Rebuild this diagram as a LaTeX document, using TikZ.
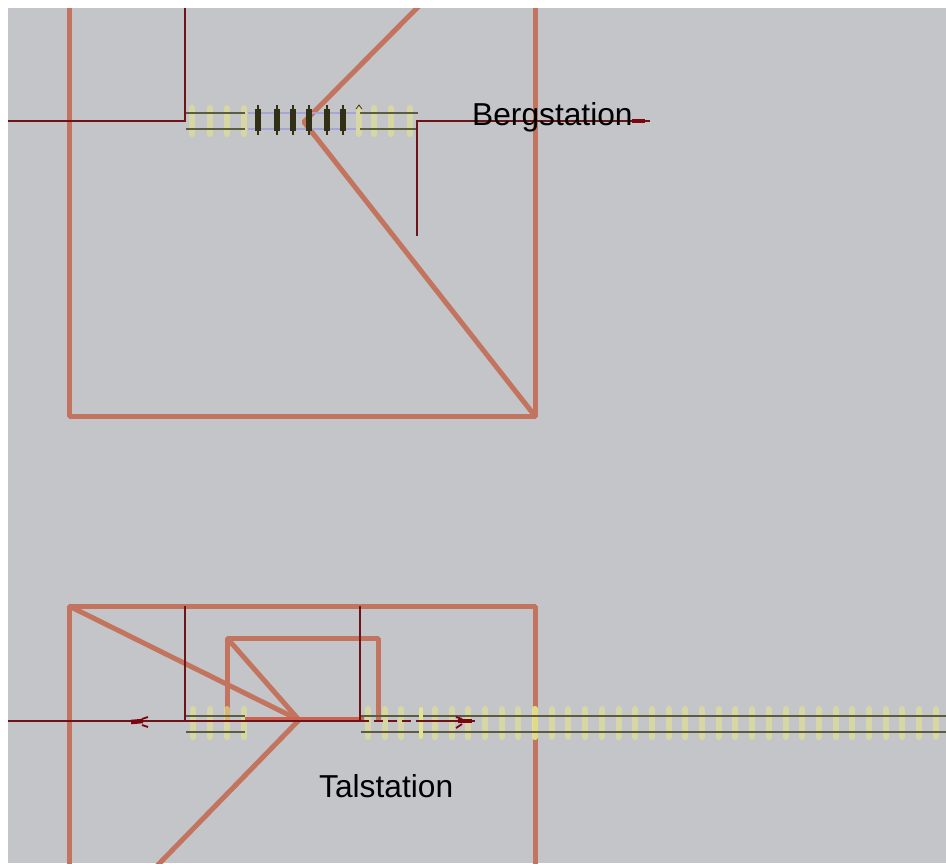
\documentclass[tikz,border=0pt]{standalone}
\usepackage{fontspec}
\setmainfont{Liberation Sans}
\usetikzlibrary{calc}
\definecolor{wall}{RGB}{194, 116, 94}
\definecolor{cable}{RGB}{110, 20, 25}
\definecolor{blob}{RGB}{125, 5, 15}
\definecolor{rail}{RGB}{92, 92, 62}
\definecolor{sleeper}{RGB}{228, 228, 140}
\definecolor{bluerail}{RGB}{165, 165, 215}
\definecolor{darktie}{RGB}{50, 48, 20}
\definecolor{paper}{RGB}{196, 197, 201}
\tikzset{
    wallline/.style={draw=wall, line width=5pt, line join=bevel},
    cableline/.style={draw=cable, line width=2pt},
    railline/.style={draw=rail, line width=2pt},
    tie/.style={draw=sleeper, line width=6pt, line cap=round, opacity=0.6},
    darkrail/.style={draw=bluerail, line width=2pt},
    sleepertie/.style={draw=darktie, line width=6pt},
    tiptick/.style={draw=darktie, line width=2pt},
    barb/.style={draw=blob, line width=1.8pt},
    blobline/.style={draw=blob, line width=4.5pt},
    label/.style={font=\fontsize{31.7}{38}\selectfont, text=black, inner sep=0pt}
}
\begin{document}
\begin{tikzpicture}[x=1pt, y=-1pt]
    \useasboundingbox (0,0) rectangle (946,863);
    \fill[paper] (8,8) rectangle (946,863);
    \clip (8,8) rectangle (946,863);

    % -- Bergstation: walls --
    \coordinate (bergTL) at (69,0);
    \coordinate (bergBL) at (69,416);
    \coordinate (bergBR) at (535,416);
    \coordinate (bergTR) at (535,0);
    \coordinate (bergMid) at (304,122);
    \coordinate (bergTop) at (425,0);
    \draw [wallline] (bergTL) -- (bergBL) -- (bergBR) -- (bergTR);
    \draw [wallline] (bergBR) -- (bergMid) -- (bergTop);

    % -- Talstation: walls --
    \coordinate (talTL) at (69,606);
    \coordinate (talTR) at (535,606);
    \coordinate (talBL) at (69,870);
    \coordinate (talBR) at (535,870);
    \coordinate (talMid) at (299,720);
    \coordinate (talDiag) at (153,870);
    \coordinate (boxTL) at (227,638);
    \coordinate (boxTR) at (378,638);
    \coordinate (boxBL) at (227,720);
    \coordinate (boxBR) at (378,720);
    \draw [wallline] (talBL) -- (talTL) -- (talTR) -- (talBR);
    \draw [wallline] (talTL) -- (talMid) -- (talDiag);
    \draw [wallline] (boxBL) -- (boxTL) -- (boxTR) -- (boxBR);
    \draw [wallline] (boxTL) -- (talMid);

    % -- Bergstation: tracks --
    \foreach \x in {192,210,227,244,359,374,391,410} {
        \draw [tie] (\x,108) -- (\x,134);
    }
    \draw [railline] (186,113) -- (245,113);
    \draw [railline] (186,129) -- (245,129);
    \draw [railline] (360,113) -- (418,113);
    \draw [railline] (360,129) -- (418,129);
    \draw [darkrail] (248,113) -- (356,113);
    \draw [darkrail] (248,129) -- (356,129);
    \foreach \x in {258,277,293,309,327,343} {
        \draw [sleepertie] (\x,109) -- (\x,131);
        \draw [tiptick] (\x,105) -- (\x,135);
    }
    \draw [draw=darktie, line width=0.8pt] (356,109) -- (359,105) -- (362,109);

    % -- Talstation: tracks --
    \foreach \x in {193,210,227,244} {
        \draw [tie] (\x,709) -- (\x,737);
    }
    \foreach \n in {0,1,2,4,5,...,34} {
        \draw [tie] ({368+\n*16.7},709) -- ({368+\n*16.7},737);
    }
    \draw [tie, opacity=1, line width=4pt] (421,709) -- (421,737);
    \draw [tie, opacity=0.8] (535,709) -- (535,737);
    \draw [railline] (186,716) -- (245,716);
    \draw [railline] (186,732) -- (245,732);
    \draw [railline] (361,716) -- (419,716);
    \draw [railline] (361,732) -- (419,732);
    \draw [railline] (423,716) -- (946,716);
    \draw [railline] (423,732) -- (946,732);

    % -- Bergstation: cables --
    \coordinate (bergIn) at (8,121);
    \coordinate (bergLeft) at (185,121);
    \coordinate (bergUp) at (185,8);
    \coordinate (bergDown) at (417,236);
    \coordinate (bergRight) at (417,121);
    \coordinate (bergOut) at (650,121);
    \draw [cableline] (bergUp) -- (bergLeft) -- (bergIn);
    \draw [cableline] (bergDown) -- (bergRight) -- (bergOut);
    \draw [blobline] (632,121) -- (645,121);

    % -- Talstation: cables --
    \coordinate (talIn) at (8,721);
    \coordinate (talJoinA) at (185,721);
    \coordinate (talJoinB) at (360,721);
    \coordinate (talUpA) at (185,606);
    \coordinate (talUpB) at (360,606);
    \coordinate (talDash) at (420,721);
    \coordinate (talOut) at (475,721);
    \draw [draw=wall!85!red, line width=5pt] (245,719) -- (364,719);
    \draw [cableline] (talUpA) -- (talJoinA);
    \draw [cableline] (talUpB) -- (talJoinB);
    \draw [cableline] (talIn) -- (talJoinB);
    \draw [cableline, dash pattern=on 9pt off 5pt] (talJoinB) -- (talDash);
    \draw [cableline] (talDash) -- (talOut);
    \draw [blobline] (131,722) -- (143,721);
    \draw [barb] (142,719) -- (148,717);
    \draw [barb] (142,725) -- (148,727);
    \draw [blobline] (458,721) -- (472,721);
    \draw [barb] (462,719) -- (456,717);
    \draw [barb] (462,724) -- (456,728);

    % -- Labels --
    \node (berg) [label, anchor=base west] at (472,125) {Bergstation};
    \node (tal) [label, anchor=base west] at (319,797) {Talstation};
\end{tikzpicture}
\end{document}
